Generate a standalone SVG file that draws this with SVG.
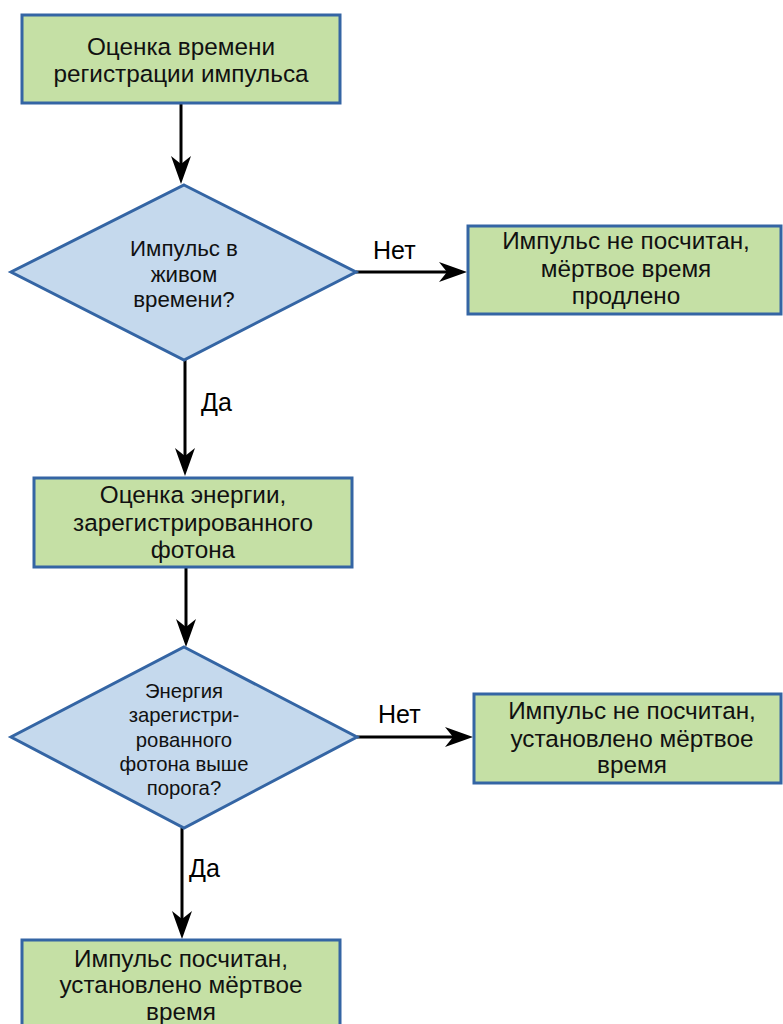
<svg xmlns="http://www.w3.org/2000/svg" width="783" height="1024" viewBox="0 0 783 1024">
<style>
.box{fill:#c5e0a5;stroke:#3465a4;stroke-width:3}
.dia{fill:#c5d9ed;stroke:#3465a4;stroke-width:3}
.t{font-family:"Liberation Sans",Arial,sans-serif;font-size:24.3px;fill:#111;text-anchor:middle}
.td{font-family:"Liberation Sans",Arial,sans-serif;font-size:22.3px;fill:#111;text-anchor:middle}
.td2{font-family:"Liberation Sans",Arial,sans-serif;font-size:20.3px;fill:#111;text-anchor:middle}
.lbl{font-family:"Liberation Sans",Arial,sans-serif;font-size:25px;fill:#000}
.c{stroke:#000;stroke-width:3;fill:none;marker-end:url(#ah)}
</style>
<defs>
<marker id="ah" viewBox="0 0 28 20" refX="20" refY="10" markerWidth="28" markerHeight="20" markerUnits="userSpaceOnUse" orient="auto">
<path d="M0,0 L28,10 L0,20 L8,10 Z" fill="#000"/>
</marker>
</defs>
<rect width="783" height="1024" fill="#fff"/>
<g id="connectors">
<line class="c" x1="181" y1="104" x2="181" y2="176"/>
<line class="c" x1="185" y1="360" x2="185" y2="468"/>
<line class="c" x1="186" y1="567" x2="186" y2="639"/>
<line class="c" x1="182" y1="828" x2="182" y2="931"/>
<line class="c" x1="356" y1="272" x2="459" y2="272"/>
<line class="c" x1="357" y1="737" x2="465" y2="737"/>
<text class="lbl" x="373" y="259">Нет</text>
<text class="lbl" x="201" y="411">Да</text>
<text class="lbl" x="378" y="723">Нет</text>
<text class="lbl" x="189" y="877">Да</text>
</g>
<g id="n1">
<rect class="box" x="22" y="15" width="318" height="88"/>
<text class="t" x="181" y="55">Оценка времени</text>
<text class="t" x="181" y="82">регистрации импульса</text>
</g>
<g id="d1">
<polygon class="dia" points="184,185 356,272 184,360 11,272"/>
<text class="td" x="184" y="256">Импульс в</text>
<text class="td" x="184" y="282">живом</text>
<text class="td" x="184" y="307">времени?</text>
</g>
<g id="n2">
<rect class="box" x="468" y="226" width="313" height="88"/>
<text class="t" x="626" y="249">Импульс не посчитан,</text>
<text class="t" x="626" y="277">мёртвое время</text>
<text class="t" x="626" y="304">продлено</text>
</g>
<g id="n3">
<rect class="box" x="34" y="478" width="318" height="89"/>
<text class="t" x="193" y="503">Оценка энергии,</text>
<text class="t" x="193" y="531">зарегистрированного</text>
<text class="t" x="193" y="558">фотона</text>
</g>
<g id="d2">
<polygon class="dia" points="184,647 357,737 184,828 11,737"/>
<text class="td2" x="184" y="698">Энергия</text>
<text class="td2" x="184" y="722">зарегистри-</text>
<text class="td2" x="184" y="747">рованного</text>
<text class="td2" x="184" y="771">фотона выше</text>
<text class="td2" x="184" y="795">порога?</text>
</g>
<g id="n4">
<rect class="box" x="474" y="694" width="307" height="89"/>
<text class="t" x="632" y="719">Импульс не посчитан,</text>
<text class="t" x="632" y="747">установлено мёртвое</text>
<text class="t" x="632" y="773">время</text>
</g>
<g id="n5">
<rect class="box" x="22" y="940" width="318" height="95"/>
<text class="t" x="181" y="967">Импульс посчитан,</text>
<text class="t" x="181" y="993">установлено мёртвое</text>
<text class="t" x="181" y="1020">время</text>
</g>
</svg>
